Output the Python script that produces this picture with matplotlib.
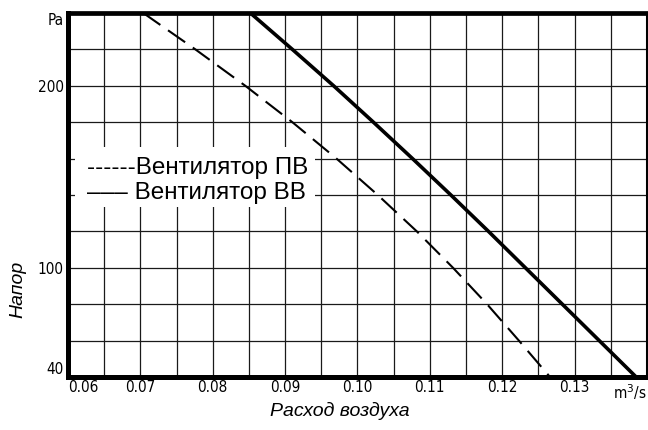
import numpy as np
import matplotlib
matplotlib.use("Agg")
import matplotlib.pyplot as plt
from matplotlib import font_manager
from matplotlib.patches import Rectangle

# ---------------------------------------------------------
# Données
# ---------------------------------------------------------
pressure = [240, 220, 200, 180, 160, 140, 120, 100, 80, 60, 40]   # Pa

flow_pv = [0.0704, 0.0776, 0.0845, 0.0910, 0.0971, 0.1028,
           0.1082, 0.1132, 0.1179, 0.1223, 0.1266]               # Вентилятор ПВ
flow_bv = [0.0852, 0.0910, 0.0967, 0.1022, 0.1076, 0.1129,
           0.1181, 0.1232, 0.1283, 0.1334, 0.1385]               # Вентилятор ВВ

x_ticks = [0.06, 0.07, 0.08, 0.09, 0.10, 0.11, 0.12, 0.13]
x_tick_labels = ["0.06", "0.07", "0.08", "0.09", "0.10", "0.11", "0.12", "0.13"]
y_ticks = [40, 100, 200, 240]
y_tick_labels = ["40", "100", "200", "Pa"]

label_pv = "------Вентилятор ПВ"
label_bv = "––– Вентилятор ВВ"

# police étroite pour les graduations
names = {f.name for f in font_manager.fontManager.ttflist}
narrow = "Liberation Sans Narrow" if "Liberation Sans Narrow" in names else "DejaVu Sans"
main_font = "Liberation Sans"
tick_font = dict(fontfamily=narrow, fontstretch="condensed", fontsize=11)

# ---------------------------------------------------------
# Figure
# ---------------------------------------------------------
fig = plt.figure(figsize=(6.48, 4.30), dpi=100)
ax = fig.add_axes([68 / 648, 1 - 377 / 430, 579 / 648, 364 / 430])

ax.set_xlim(0.06, 0.14)
ax.set_ylim(40, 240)

ax.set_xticks(np.arange(0.06, 0.1401, 0.005), minor=True)
ax.set_yticks(np.arange(40, 241, 20), minor=True)
ax.set_xticks(x_ticks)
ax.set_yticks(y_ticks)
ax.grid(which="both", color="#1a1a1a", linewidth=0.9)
ax.tick_params(which="both", length=0)

ax.set_xticklabels(x_tick_labels, **tick_font)
ax.set_yticklabels(y_tick_labels, **tick_font)
ax.tick_params(axis="x", pad=2)
ax.tick_params(axis="y", pad=3)
ax.get_xticklabels()[0].set_horizontalalignment("left")
ax.get_yticklabels()[0].set_verticalalignment("bottom")
ax.get_yticklabels()[-1].set_verticalalignment("top")

ax.text(1.0, -0.015, "m$^3$/s", transform=ax.transAxes, ha="right", va="top",
        **tick_font)

for side, lw in [("left", 3.6), ("bottom", 3.6), ("top", 3.4), ("right", 2.2)]:
    ax.spines[side].set_linewidth(lw)
    ax.spines[side].set_color("black")

ax.plot(flow_pv, pressure, color="black", linewidth=1.5,
        linestyle=(0, (10, 4.5)), zorder=3)
ax.plot(flow_bv, pressure, color="black", linewidth=2.6, zorder=3)

# légende dessinée comme du texte sur fond blanc
ax.add_patch(Rectangle((0.012, 0.467), 0.415, 0.165, transform=ax.transAxes,
                       facecolor="white", edgecolor="none", zorder=4))
ax.text(0.033, 0.573, label_pv, transform=ax.transAxes, va="center", ha="left",
        fontfamily=main_font, fontsize=17.5, zorder=5)
ax.text(0.033, 0.505, label_bv, transform=ax.transAxes, va="center", ha="left",
        fontfamily=main_font, fontsize=17.5, zorder=5)

fig.text(340 / 648, 1 - 411 / 430, "Расход воздуха", ha="center", va="center",
         fontfamily=main_font, fontstyle="italic", fontsize=14)
fig.text(18 / 648, 1 - 289 / 430, "Напор", ha="center", va="center", rotation=90,
         fontfamily=main_font, fontstyle="italic", fontsize=14)

fig.savefig("out.png", dpi=100)
